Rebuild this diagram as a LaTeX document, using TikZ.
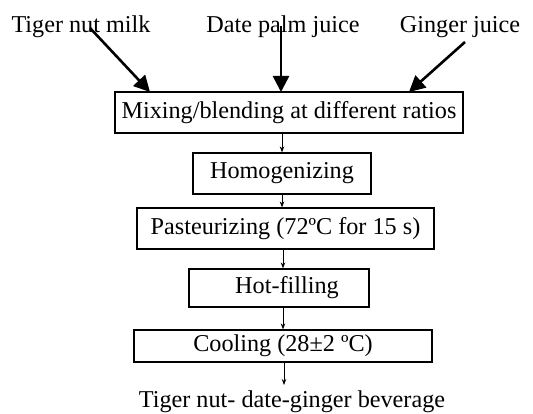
\documentclass[tikz,border=0pt]{standalone}
\usepackage{fontspec}
\setmainfont{Liberation Serif}
\usetikzlibrary{arrows.meta}
\begin{document}
\begin{tikzpicture}[x=1pt,y=-1pt,
  every node/.style={font=\fontsize{24.2}{29}\selectfont, inner sep=0pt},
  stepbox/.style={draw, line width=1.2pt, anchor=center},
  feed/.style={line width=2.6pt, -{Triangle[length=16pt,width=16pt]}},
  flow/.style={line width=0.8pt, -{Stealth[length=6pt,width=4.5pt]}}]
\useasboundingbox (0,0) rectangle (533,414);
\node (tn) at (81,27) {Tiger nut milk};
\node (dp) at (283,27) {Date palm juice};
\node (gj) at (460,27) {Ginger juice};
\node[stepbox, minimum width=348pt, minimum height=41pt] (b1) at (289,112.5) {Mixing/blending at different ratios};
\node[stepbox, minimum width=178pt, minimum height=41pt] (b2) at (282,173.5) {Homogenizing};
\node[stepbox, minimum width=297pt, minimum height=41pt] (b3) at (285.5,228.5) {Pasteurizing (72ºC for 15 s)};
\node[stepbox, minimum width=180pt, minimum height=38pt] (b4) at (279,288) {\hspace{16pt}Hot-filling};
\node[stepbox, minimum width=298pt, minimum height=32pt] (b5) at (283,346) {Cooling (28±2 ºC)};
\node (out) at (292,402) {Tiger nut- date-ginger beverage};
\coordinate (tns) at (90,28);
\coordinate (dps) at (281,26);
\coordinate (gjs) at (465,42);
\coordinate (tne) at (150,92);
\coordinate (dpe) at (281,92);
\coordinate (gje) at (409,92);
\draw[feed] (tns) -- (tne);
\draw[feed] (dps) -- (dpe);
\draw[feed] (gjs) -- (gje);
\draw[flow] (b2.north |- b1.south) -- (b2.north);
\draw[flow] (b2.south) -- (b2.south |- b3.north);
\draw[flow] (b5.north |- b3.south) -- (b5.north |- b4.north);
\draw[flow] (b5.north |- b4.south) -- (b5.north);
\coordinate (oute) at (284,385);
\draw[flow] (b5.south -| oute) -- (oute);
\end{tikzpicture}
\end{document}
